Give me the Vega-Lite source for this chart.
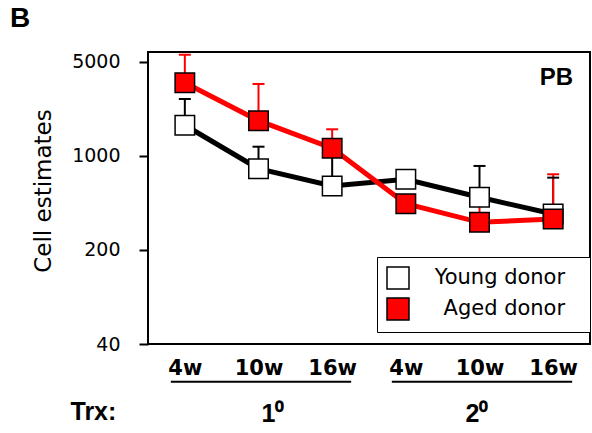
{
  "$schema": "https://vega.github.io/schema/vega-lite/v6.json",
  "width": 442,
  "height": 292,
  "autosize": "none",
  "padding": {"left": 148, "top": 52, "right": 2, "bottom": 89},
  "background": "white",
  "title": {"text": "B", "anchor": "start", "frame": "group", "font": "Liberation Sans", "fontSize": 28, "fontWeight": "bold", "dx": -138, "dy": 25, "offset": 22, "baseline": "alphabetic", "color": "black"},
  "config": {
    "view": {"stroke": "black", "strokeWidth": 2},
    "axis": {"grid": false, "labelColor": "black", "titleColor": "black", "tickColor": "black"},
    "legend": {"labelFont": "DejaVu Sans", "labelFontSize": 21}
  },
  "datasets": {
    "main": [
      {"donor": "Young donor", "t": "1-4w", "value": 1692, "err": 2653},
      {"donor": "Young donor", "t": "1-10w", "value": 804, "err": 1172},
      {"donor": "Young donor", "t": "1-16w", "value": 598, "err": 1050},
      {"donor": "Young donor", "t": "2-4w", "value": 671, "err": null},
      {"donor": "Young donor", "t": "2-10w", "value": 493, "err": 843},
      {"donor": "Young donor", "t": "2-16w", "value": 370, "err": 690},
      {"donor": "Aged donor", "t": "1-4w", "value": 3507, "err": 5665},
      {"donor": "Aged donor", "t": "1-10w", "value": 1831, "err": 3431},
      {"donor": "Aged donor", "t": "1-16w", "value": 1141, "err": 1579},
      {"donor": "Aged donor", "t": "2-4w", "value": 442, "err": null},
      {"donor": "Aged donor", "t": "2-10w", "value": 321, "err": 450},
      {"donor": "Aged donor", "t": "2-16w", "value": 340, "err": 731}
    ],
    "underlines": [
      {"s": "1-4w", "e": "1-16w"},
      {"s": "2-4w", "e": "2-16w"}
    ],
    "groups": [
      {"g": "1⁰"},
      {"g": "2⁰"}
    ],
    "panel": [
      {"label": "PB", "t": "2-16w", "v": 3372}
    ]
  },
  "layer": [
    {
      "layer": [
        {
          "data": {"name": "main"},
          "transform": [{"filter": "datum.err != null"}],
          "mark": {"type": "rule", "strokeWidth": 2},
          "encoding": {
            "x": {"field": "t", "type": "nominal", "sort": null,
              "scale": {"type": "point", "padding": 0.5, "domain": ["1-4w", "1-10w", "1-16w", "2-4w", "2-10w", "2-16w"]},
              "axis": {"orient": "bottom", "title": null, "domain": false, "ticks": false, "labelAngle": 0,
                "labelExpr": "slice(datum.label, 2)", "labelFont": "DejaVu Sans", "labelFontWeight": "bold",
                "labelFontSize": 21, "labelPadding": 13}},
            "y": {"field": "value", "type": "quantitative",
              "scale": {"type": "log", "domain": [40, 5930], "nice": false, "zero": false},
              "axis": {"values": [40, 200, 1000, 5000], "format": "d", "domain": false, "tickSize": 9, "tickWidth": 2,
                "labelFont": "DejaVu Sans", "labelFontSize": 19, "labelPadding": 19,
                "title": "Cell estimates", "titleFont": "DejaVu Sans", "titleFontSize": 23, "titleFontWeight": "normal",
                "titleX": -98, "titleY": 138.5, "titleBaseline": "alphabetic", "titleAngle": -90}},
            "y2": {"field": "err"},
            "stroke": {"condition": {"test": "datum.donor === 'Aged donor'", "value": "red"}, "value": "black"}
          }
        },
        {
          "data": {"name": "main"},
          "transform": [{"filter": "datum.err != null"}],
          "mark": {"type": "tick", "size": 12, "thickness": 2, "opacity": 1},
          "encoding": {
            "x": {"field": "t", "type": "nominal", "sort": null},
            "y": {"field": "err", "type": "quantitative"},
            "color": {"condition": {"test": "datum.donor === 'Aged donor'", "value": "red"}, "value": "black"}
          }
        },
        {
          "data": {"name": "main"},
          "mark": {"type": "line", "strokeWidth": 5},
          "encoding": {
            "x": {"field": "t", "type": "nominal", "sort": null},
            "y": {"field": "value", "type": "quantitative"},
            "detail": {"field": "donor", "type": "nominal"},
            "stroke": {"condition": {"test": "datum.donor === 'Aged donor'", "value": "red"}, "value": "black"}
          }
        },
        {
          "data": {"name": "main"},
          "mark": {"type": "point", "shape": "square", "filled": true, "size": 380, "stroke": "black", "strokeWidth": 1.5, "opacity": 1},
          "encoding": {
            "x": {"field": "t", "type": "nominal", "sort": null},
            "y": {"field": "value", "type": "quantitative"},
            "fill": {"field": "donor", "type": "nominal",
              "scale": {"domain": ["Young donor", "Aged donor"], "range": ["white", "red"]},
              "legend": {"orient": "none", "legendX": 229, "legendY": 205, "title": null,
                "fillColor": "white", "strokeColor": "black", "padding": 9, "rowPadding": 3,
                "symbolType": "square", "symbolSize": 484, "symbolStrokeColor": "black", "symbolStrokeWidth": 1.5, "symbolOpacity": 1,
                "labelFont": "DejaVu Sans", "labelFontSize": 21, "labelColor": "black", "labelAlign": "right",
                "labelOffset": 170.5, "labelLimit": 400, "labelExpr": "datum.label + '\u2800'"}}
          }
        },
        {
          "data": {"name": "underlines"},
          "mark": {"type": "rule", "strokeWidth": 2, "color": "black", "xOffset": -14, "x2Offset": 19},
          "encoding": {
            "x": {"field": "s", "type": "nominal", "sort": null},
            "x2": {"field": "e"},
            "y": {"datum": 21, "type": "quantitative"}
          }
        },
        {
          "data": {"name": "panel"},
          "mark": {"type": "text", "font": "Liberation Sans", "fontSize": 24, "fontWeight": "bold", "align": "right", "baseline": "alphabetic", "xOffset": 20, "color": "black"},
          "encoding": {
            "x": {"field": "t", "type": "nominal", "sort": null},
            "y": {"field": "v", "type": "quantitative"},
            "text": {"field": "label"}
          }
        }
      ]
    },
    {
      "data": {"name": "groups"},
      "mark": {"type": "text", "text": ""},
      "encoding": {
        "x": {"field": "g", "type": "nominal", "sort": null,
          "scale": {"type": "point", "padding": 0.583, "domain": ["1⁰", "2⁰"]},
          "axis": {"orient": "bottom", "domain": false, "ticks": false, "labelAngle": 0,
            "labelFont": "Liberation Sans", "labelFontWeight": "bold", "labelFontSize": 25, "labelPadding": 57, "labelOffset": 5.5,
            "title": "Trx:", "titleFont": "Liberation Sans", "titleFontWeight": "bold", "titleFontSize": 25,
            "titleX": -78, "titleY": 75.3, "titleAlign": "left", "titleBaseline": "alphabetic"}}
      }
    }
  ],
  "resolve": {"scale": {"x": "independent"}}
}
